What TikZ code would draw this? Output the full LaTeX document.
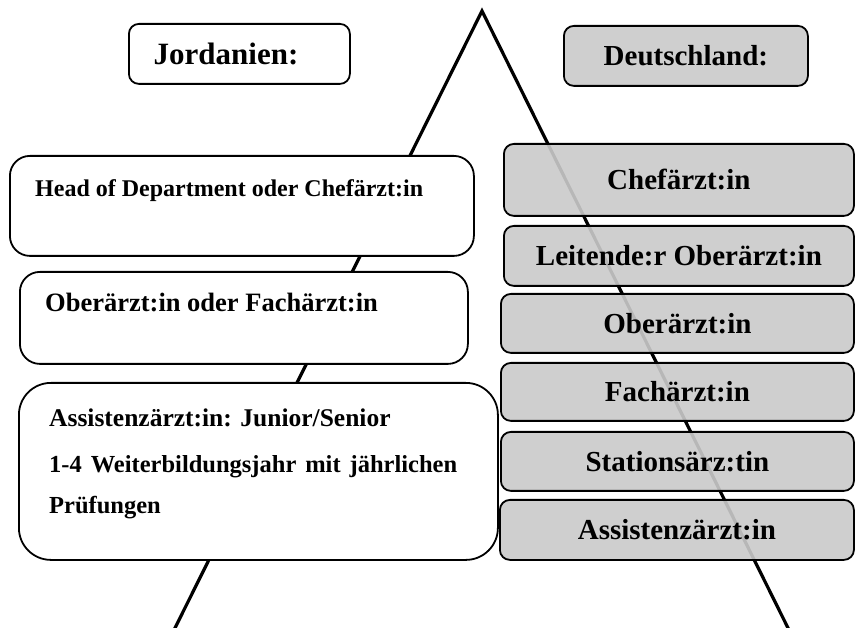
\documentclass[tikz,border=0pt]{standalone}
\usepackage{fontspec}
\setmainfont{Liberation Serif}
\begin{document}
\begin{tikzpicture}[x=1pt,y=-1pt,
  box/.style={draw=black, line width=1.8pt, anchor=north west, inner sep=0pt},
  whitebox/.style={box, fill=white},
  greybox/.style={box, fill={rgb,255:red,202;green,202;blue,202}, fill opacity=0.91,
    text opacity=1, rounded corners=10pt, font=\fontsize{29}{34}\selectfont\bfseries},
  txt/.style={inner sep=0pt, anchor=base west},
  pyramid/.style={line width=3.2pt, line join=miter}
]
\useasboundingbox (0,0) rectangle (855,628);

% pyramid outline
\coordinate (apex) at (482,11);
\coordinate (baseL) at (174,630);
\coordinate (baseR) at (789,630);
\draw[pyramid] (baseL) -- (apex) -- (baseR);

% headings
\node[whitebox, rounded corners=10pt, minimum width=221pt, minimum height=60pt] (jo) at (128,23) {};
\node[txt, anchor=base, font=\fontsize{31}{36}\selectfont\bfseries] (jotxt) at (226,65) {Jordanien:};
\node[greybox, minimum width=244pt, minimum height=60pt] (de) at (563,25) {Deutschland:};

% Jordan: three levels
\node[whitebox, rounded corners=20pt, minimum width=464pt, minimum height=100pt] (j1) at (9,155) {};
\node[txt, font=\fontsize{24}{28}\selectfont\bfseries] (j1txt) at (35,197) {Head of Department oder Chefärzt:in};

\node[whitebox, rounded corners=20pt, minimum width=448pt, minimum height=92pt] (j2) at (19,271) {};
\node[txt, font=\fontsize{26.5}{30}\selectfont\bfseries] (j2txt) at (45,312) {Oberärzt:in oder Fachärzt:in};

\node[whitebox, rounded corners=32pt, minimum width=479pt, minimum height=177pt] (j3) at (18,382) {};
\node[txt, font=\fontsize{25.5}{30}\selectfont\bfseries] (j3a) at (49,427) {Assistenzärzt:in: Junior/Senior};
\node[txt, font=\fontsize{24.5}{30}\selectfont\bfseries] (j3b) at (49,472)
  {\hbox to 408pt{1-4\hfill Weiterbildungsjahr\hfill mit\hfill jährlichen}};
\node[txt, font=\fontsize{24.5}{30}\selectfont\bfseries] (j3c) at (49,513) {Prüfungen};

% Germany: six levels
\node[greybox, minimum width=350pt, minimum height=72pt] (g1) at (503,143) {Chefärzt:in};
\node[greybox, minimum width=350pt, minimum height=60pt] (g2) at (503,225) {Leitende:r Oberärzt:in};
\node[greybox, minimum width=353pt, minimum height=59pt] (g3) at (500,293) {Oberärzt:in};
\node[greybox, minimum width=353pt, minimum height=58pt] (g4) at (500,362) {Fachärzt:in};
\node[greybox, minimum width=353pt, minimum height=59pt] (g5) at (500,431) {Stationsärz:tin};
\node[greybox, minimum width=354pt, minimum height=60pt] (g6) at (499,499) {Assistenzärzt:in};
\end{tikzpicture}
\end{document}
